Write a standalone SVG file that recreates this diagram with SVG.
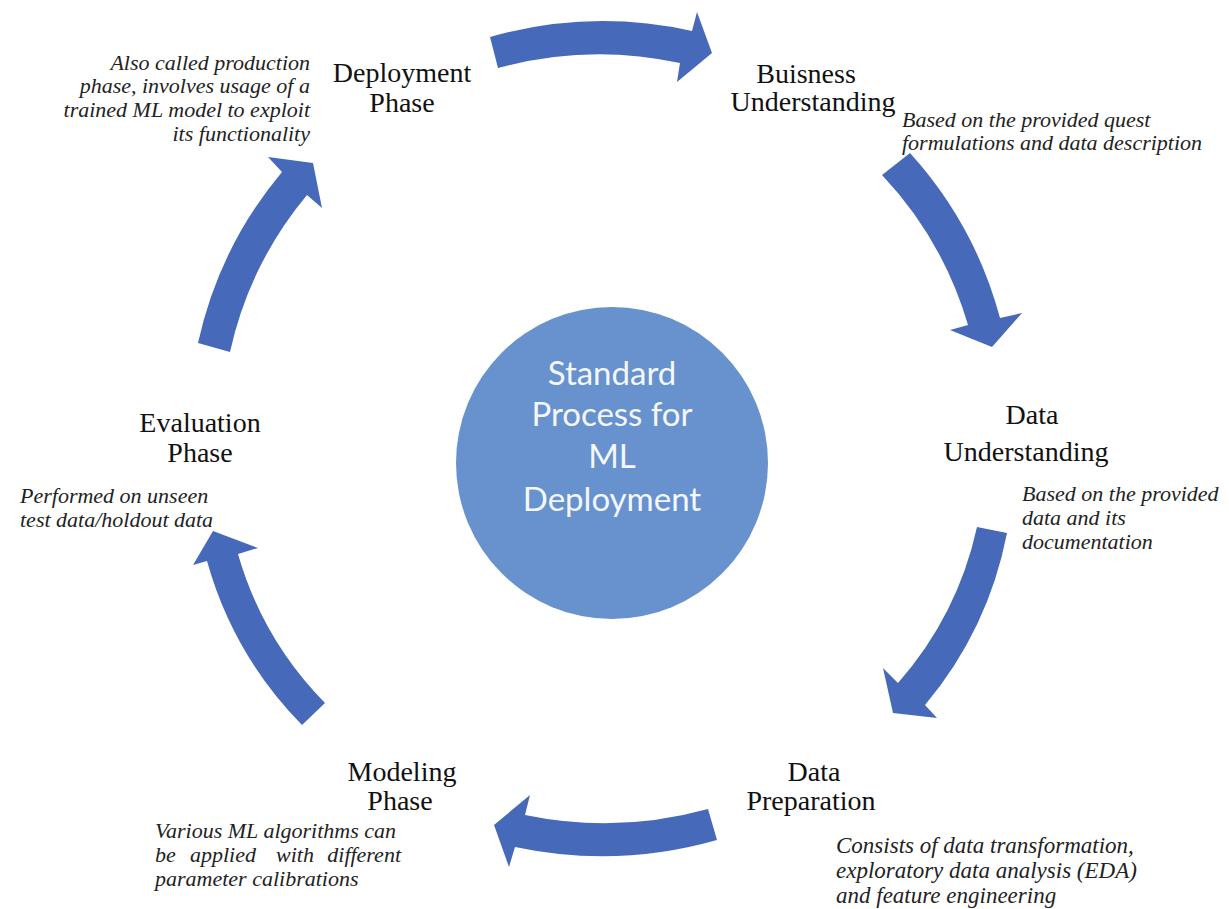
<svg xmlns="http://www.w3.org/2000/svg" width="1229" height="909" viewBox="0 0 1229 909">
<style>
.arrow{fill:#4769b9;}
.lbl{font-family:"Liberation Serif","Times New Roman",serif;font-size:28px;fill:#111;text-anchor:middle;}
.note{font-family:"Liberation Serif","Times New Roman",serif;font-size:22px;font-style:italic;fill:#222;}
.ctr{font-family:Lato,"Open Sans",sans-serif;font-size:33px;fill:#f4f7fc;text-anchor:middle;}
</style>
<rect width="1229" height="909" fill="#ffffff"/>
<g id="connectors">
<path class="arrow" d="M490,37 A414,414 0 0 1 692,31 L697,12 L712,53 L677,82 L680,63 A380,380 0 0 0 498,68 Z"/>
<path class="arrow" d="M910,153 A400,400 0 0 1 1000,318 L1022,313 L992,347 L950,330 L968,325 A370,370 0 0 0 882,175 Z"/>
<path class="arrow" d="M1007,533 A380,380 0 0 1 925,705 L937,718 L893,713 L883,668 L898,683 A350,350 0 0 0 977,527 Z"/>
<path class="arrow" d="M717,840 A420,420 0 0 1 515,847 L509,867 L494,825 L530,795 L525,815 A390,390 0 0 0 708,809 Z"/>
<path class="arrow" d="M302,725 A380,380 0 0 1 207,561 L193,565 L213,531 L258,548 L238,554 A350,350 0 0 0 325,703 Z"/>
<path class="arrow" d="M198,343 A400,400 0 0 1 282,172 L268,157 L313,163 L322,208 L307,195 A370,370 0 0 0 230,352 Z"/>
</g>
<g id="center">
<circle cx="612" cy="463" r="156" fill="#6792cd"/>
<text class="ctr" x="612" y="385">Standard</text>
<text class="ctr" x="612" y="426">Process for</text>
<text class="ctr" x="612" y="468">ML</text>
<text class="ctr" x="612" y="511">Deployment</text>
</g>
<g id="deployment">
<text class="lbl" x="402" y="82">Deployment</text>
<text class="lbl" x="402" y="112">Phase</text>
<text class="note" text-anchor="end"><tspan x="310" y="70">Also called production</tspan><tspan x="310" y="93">phase, involves usage of a</tspan><tspan x="310" y="117">trained ML model to exploit</tspan><tspan x="310" y="141">its functionality</tspan></text>
</g>
<g id="business">
<text class="lbl" x="806" y="83">Buisness</text>
<text class="lbl" x="813" y="111">Understanding</text>
<text class="note"><tspan x="902" y="127">Based on the provided quest</tspan><tspan x="902" y="150">formulations and data description</tspan></text>
</g>
<g id="data-understanding">
<text class="lbl" x="1032" y="424">Data</text>
<text class="lbl" x="1026" y="461">Understanding</text>
<text class="note"><tspan x="1022" y="501">Based on the provided</tspan><tspan x="1022" y="525">data and its</tspan><tspan x="1022" y="549">documentation</tspan></text>
</g>
<g id="data-preparation">
<text class="lbl" x="814" y="781">Data</text>
<text class="lbl" x="811" y="810">Preparation</text>
<text class="note" style="font-size:23px"><tspan x="836" y="853">Consists of data transformation,</tspan><tspan x="836" y="878">exploratory data analysis (EDA)</tspan><tspan x="836" y="903">and feature engineering</tspan></text>
</g>
<g id="modeling">
<text class="lbl" x="402" y="781">Modeling</text>
<text class="lbl" x="400" y="810">Phase</text>
<text class="note"><tspan x="155" y="838">Various ML algorithms can</tspan></text>
<text class="note" y="862"><tspan x="155">be</tspan><tspan x="190">applied</tspan><tspan x="276">with</tspan><tspan x="401" text-anchor="end">different</tspan></text>
<text class="note"><tspan x="155" y="886">parameter calibrations</tspan></text>
</g>
<g id="evaluation">
<text class="lbl" x="200" y="432">Evaluation</text>
<text class="lbl" x="200" y="462">Phase</text>
<text class="note"><tspan x="20" y="503">Performed on unseen</tspan><tspan x="20" y="527">test data/holdout data</tspan></text>
</g>
</svg>
